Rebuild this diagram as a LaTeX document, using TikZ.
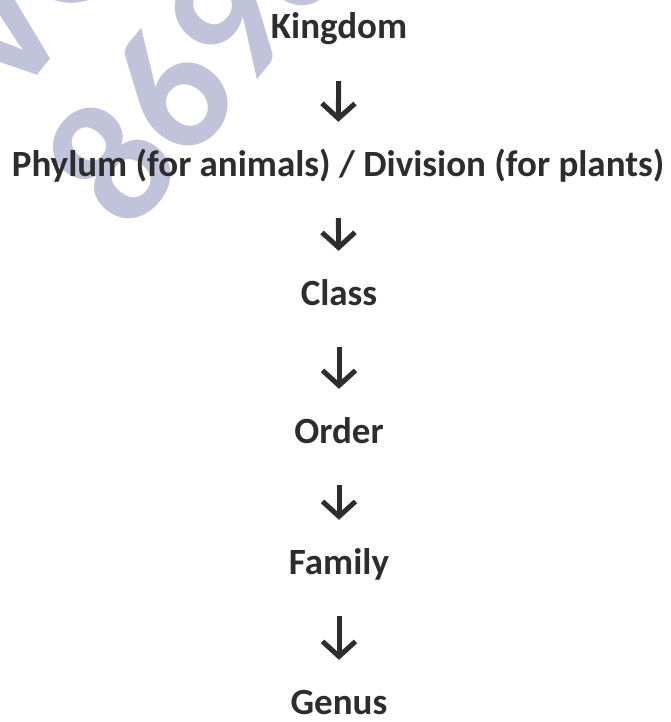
\documentclass[tikz,border=0pt]{standalone}
\usepackage{fontspec}
\setmainfont{Carlito}
\usepackage{tikz}
\usetikzlibrary{arrows.meta}
\usepackage{xcolor}
\definecolor{rankgray}{HTML}{2D2D2D}
\definecolor{markcolor}{HTML}{C0C3D9}

\begin{document}
\begin{tikzpicture}[x=1pt,y=1pt,
  rank/.style={font=\fontsize{37}{42}\selectfont\bfseries, text=rankgray, anchor=base,
    inner sep=0pt, text height=24pt, text depth=8pt},
  down/.style={draw=rankgray, line width=5pt,
    -{Straight Barb[length=15pt,width=33pt]}, shorten <=34pt, shorten >=30pt},
  watermark/.style={text=markcolor, font=\fontsize{180}{180}\selectfont\bfseries, rotate=51}]
\useasboundingbox (0,0) rectangle (670,-722);
\clip (0,0) rectangle (670,-722);
% watermark
\node[watermark] (digits) at (198,-56) {8698};
\node[watermark] (letters) at (36,16) {VO};
% ranks
\node[rank] (kingdom) at (339,-39) {Kingdom};
\node[rank] (phylum) at (338,-176) {Phylum (for animals) / Division (for plants)};
\node[rank] (class) at (339,-305) {Class};
\node[rank] (order) at (339,-443) {Order};
\node[rank] (family) at (339,-574) {Family};
\node[rank] (genus) at (339,-714) {Genus};
% arrows
\draw[down] (kingdom) -- (phylum);
\draw[down] (phylum) -- (class);
\draw[down] (class) -- (order);
\draw[down] (order) -- (family);
\draw[down] (family) -- (genus);
\end{tikzpicture}
\end{document}
